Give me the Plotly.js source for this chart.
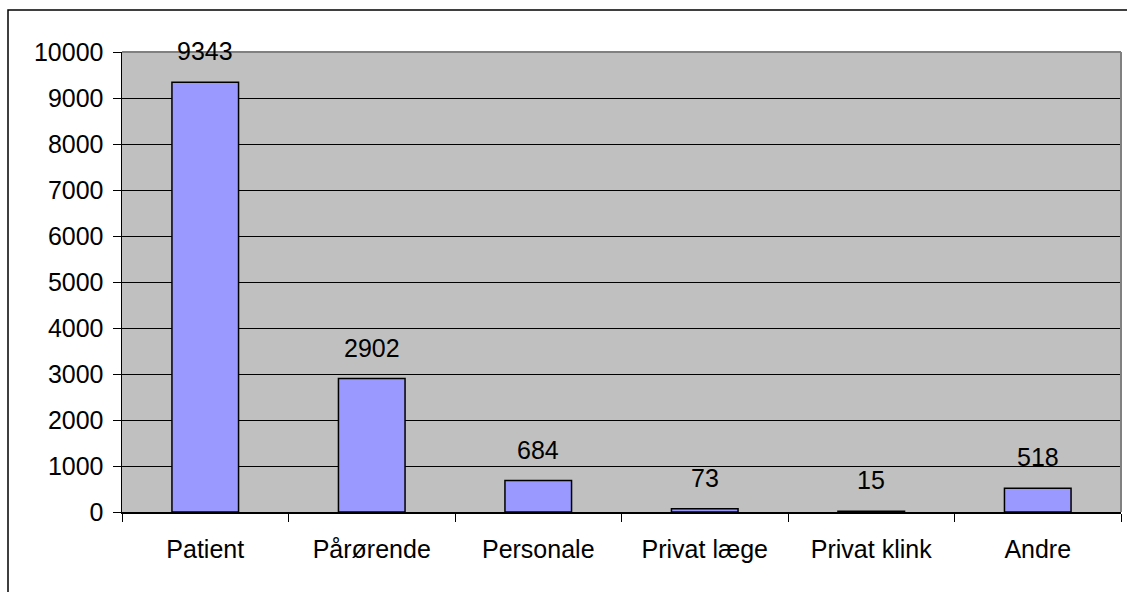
<!DOCTYPE html>
<html>
<head>
<meta charset="utf-8">
<script src="https://cdn.plot.ly/plotly-3.0.1.min.js"></script>
<style>
  html, body { margin: 0; padding: 0; background: #ffffff; }
  #chart { width: 1127px; height: 592px; }
</style>
</head>
<body>
<div id="chart"></div>
<script>
// Henvendelser fordelt på afsender
const categories = ["Patient", "Pårørende", "Personale", "Privat læge", "Privat klink", "Andre"];
const counts = [9343, 2902, 684, 73, 15, 518];
const yTicks = [0, 1000, 2000, 3000, 4000, 5000, 6000, 7000, 8000, 9000, 10000];

const FONT = "Liberation Sans, Arial, sans-serif";
const SIZE = 25;

const bars = {
  type: "bar",
  x: categories,
  y: counts,
  width: 0.4,
  marker: { color: "#9999FF", line: { color: "#000000", width: 1.5 } },
  hoverinfo: "x+y"
};

// Value labels sitting above each bar
const valueLabels = categories.map((c, i) => ({
  x: c,
  y: counts[i],
  xref: "x",
  yref: "y",
  text: String(counts[i]),
  showarrow: false,
  yanchor: "bottom",
  yshift: 15,
  font: { family: FONT, size: SIZE, color: "#000000" }
}));

const layout = {
  width: 1127,
  height: 592,
  margin: { l: 122, r: 6, t: 52, b: 80 },
  paper_bgcolor: "#ffffff",
  plot_bgcolor: "#C0C0C0",
  showlegend: false,
  font: { family: FONT, size: SIZE, color: "#000000" },
  xaxis: {
    type: "category",
    tickson: "boundaries",
    ticks: "outside",
    ticklen: 8,
    tickcolor: "#000000",
    tickwidth: 1,
    showline: true,
    linecolor: "#000000",
    linewidth: 1.5,
    showgrid: false,
    zeroline: false,
    ticklabelstandoff: 14,
    tickfont: { family: FONT, size: SIZE, color: "#000000" }
  },
  yaxis: {
    range: [0, 10000],
    tickvals: yTicks,
    ticktext: yTicks.map(String),
    ticks: "outside",
    ticklen: 8,
    tickcolor: "#000000",
    tickwidth: 1,
    showline: true,
    linecolor: "#000000",
    linewidth: 1.5,
    showgrid: true,
    gridcolor: "#000000",
    gridwidth: 1,
    zeroline: false,
    ticklabelstandoff: 4,
    tickfont: { family: FONT, size: SIZE, color: "#000000" }
  },
  shapes: [
    // gray frame around the plot area (top and right)
    { type: "line", xref: "paper", yref: "paper", x0: 0, x1: 1, y0: 1, y1: 1,
      line: { color: "#808080", width: 2 }, layer: "above" },
    { type: "line", xref: "paper", yref: "paper", x0: 1, x1: 1, y0: 0, y1: 1,
      line: { color: "#808080", width: 2 }, layer: "above" },
    // outer chart border
    { type: "rect", xref: "paper", yref: "paper",
      x0: -114 / 999, x1: 1.02, y0: -0.2, y1: 1 + 42 / 460,
      line: { color: "#000000", width: 1.5 }, fillcolor: "rgba(0,0,0,0)", layer: "below" }
  ],
  annotations: valueLabels
};

Plotly.newPlot("chart", [bars], layout, { displayModeBar: false, staticPlot: true });
</script>
</body>
</html>
